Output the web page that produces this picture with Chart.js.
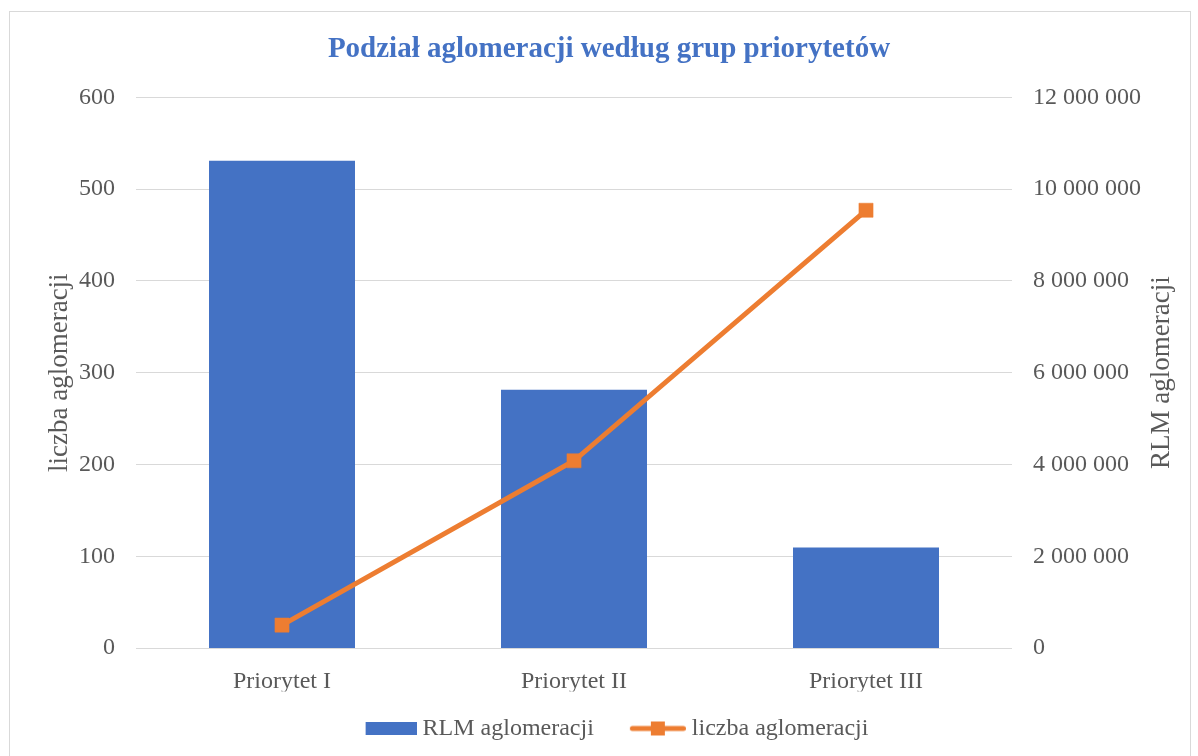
<!DOCTYPE html>
<html>
<head>
<meta charset="utf-8">
<script src="https://cdn.jsdelivr.net/npm/chart.js@4.4.1/dist/chart.umd.min.js"></script>
<style>
  html, body { margin: 0; padding: 0; background: #ffffff; overflow: hidden; }
  #frame { position: absolute; left: 9px; top: 11px; width: 1182px; height: 760px; border: 1px solid #d9d9d9; box-sizing: border-box; }
  #c { position: absolute; left: 0; top: 0; }
</style>
</head>
<body>
<div id="frame"></div>
<canvas id="c" width="1198" height="756"></canvas>
<script>
// ---- data ----
const titleText = 'Podział aglomeracji według grup priorytetów';
const categories = ['Priorytet I', 'Priorytet II', 'Priorytet III'];
const rlmLabel = 'RLM aglomeracji';
const countLabel = 'liczba aglomeracji';
const rlmValues = [10620000, 5630000, 2190000];
const countValues = [25, 204, 477];
const leftAxisRange = [0, 600, 100];
const rightAxisRange = [0, 12000000, 2000000];

// ---- styles ----
const FONT = "'Liberation Serif', 'Times New Roman', serif";
const TEXT = '#595959';
const BLUE = '#4472C4';
const ORANGE = '#ED7D31';
const GRID = '#d9d9d9';

function fmt(v) { return String(v).replace(/\B(?=(\d{3})+(?!\d))/g, ' '); }

// legend symbols (visible symbol at the right end of a 73px wide image)
const barSym = document.createElement('canvas');
barSym.width = 73; barSym.height = 13;
(function(){ const g = barSym.getContext('2d'); g.fillStyle = BLUE; g.fillRect(22, 0, 51, 13); })();
const lineSym = document.createElement('canvas');
lineSym.width = 73; lineSym.height = 16;
(function(){
  const g = lineSym.getContext('2d');
  g.strokeStyle = ORANGE; g.lineWidth = 5; g.lineCap = 'round';
  g.beginPath(); g.moveTo(19.5, 8); g.lineTo(70.5, 8); g.stroke();
  g.fillStyle = ORANGE; g.fillRect(38, 1, 14, 14);
})();

const rightTitle = {
  id: 'rightTitle',
  afterDraw(chart) {
    const ctx = chart.ctx, a = chart.chartArea;
    ctx.save();
    ctx.translate(1162, (a.top + a.bottom) / 2);
    ctx.rotate(-Math.PI / 2);
    ctx.font = '27px ' + FONT;
    ctx.fillStyle = TEXT;
    ctx.textAlign = 'center';
    ctx.textBaseline = 'middle';
    ctx.fillText(rlmLabel, 0, 0);
    ctx.restore();
  }
};

new Chart(document.getElementById('c'), {
  data: {
    labels: categories,
    datasets: [
      {
        type: 'bar', label: rlmLabel, data: rlmValues, yAxisID: 'y1',
        backgroundColor: BLUE, borderWidth: 0,
        categoryPercentage: 1.0, barPercentage: 0.5, order: 1
      },
      {
        type: 'line', label: countLabel, data: countValues, yAxisID: 'y',
        borderColor: ORANGE, borderWidth: 5, tension: 0,
        pointStyle: 'rect', pointRadius: 10, pointBackgroundColor: ORANGE,
        pointBorderColor: ORANGE, pointBorderWidth: 0.5, order: 0
      }
    ]
  },
  options: {
    responsive: false,
    animation: false,
    layout: { padding: { left: 20, right: 0, top: 0, bottom: 5.5 } },
    plugins: {
      tooltip: { enabled: false },
      title: {
        display: true, text: titleText, color: BLUE,
        font: { family: FONT, size: 29, weight: 'bold' },
        padding: { top: 32.5, bottom: 30.1 }
      },
      legend: {
        position: 'bottom',
        labels: {
          usePointStyle: true, pointStyleWidth: 61, padding: 25,
          color: TEXT, font: { family: FONT, size: 24 },
          generateLabels() {
            return [
              { text: rlmLabel, pointStyle: barSym, fillStyle: BLUE, strokeStyle: BLUE, lineWidth: 0, hidden: false, datasetIndex: 0, fontColor: TEXT },
              { text: countLabel, pointStyle: lineSym, fillStyle: ORANGE, strokeStyle: ORANGE, lineWidth: 0, hidden: false, datasetIndex: 1, fontColor: TEXT }
            ];
          }
        }
      }
    },
    scales: {
      x: {
        grid: { display: false }, border: { display: false },
        ticks: { color: TEXT, font: { family: FONT, size: 24 }, padding: 11 },
        afterFit(s) { s.height = 43.5; }
      },
      y: {
        position: 'left', min: leftAxisRange[0], max: leftAxisRange[1],
        grid: { color: GRID, lineWidth: 1, drawTicks: false },
        border: { display: false },
        ticks: { stepSize: leftAxisRange[2], color: TEXT, font: { family: FONT, size: 24 }, padding: 21 },
        title: { display: true, text: countLabel, color: TEXT, font: { family: FONT, size: 27 }, padding: { top: 24, bottom: 0 } },
        afterFit(s) { s.width = 116; }
      },
      y1: {
        position: 'right', min: rightAxisRange[0], max: rightAxisRange[1],
        grid: { display: false, drawTicks: false },
        border: { display: false },
        ticks: { stepSize: rightAxisRange[2], color: TEXT, font: { family: FONT, size: 24 }, padding: 21, callback: v => fmt(v) },
        afterFit(s) { s.width = 186; }
      }
    }
  },
  plugins: [rightTitle]
});
</script>
</body>
</html>
